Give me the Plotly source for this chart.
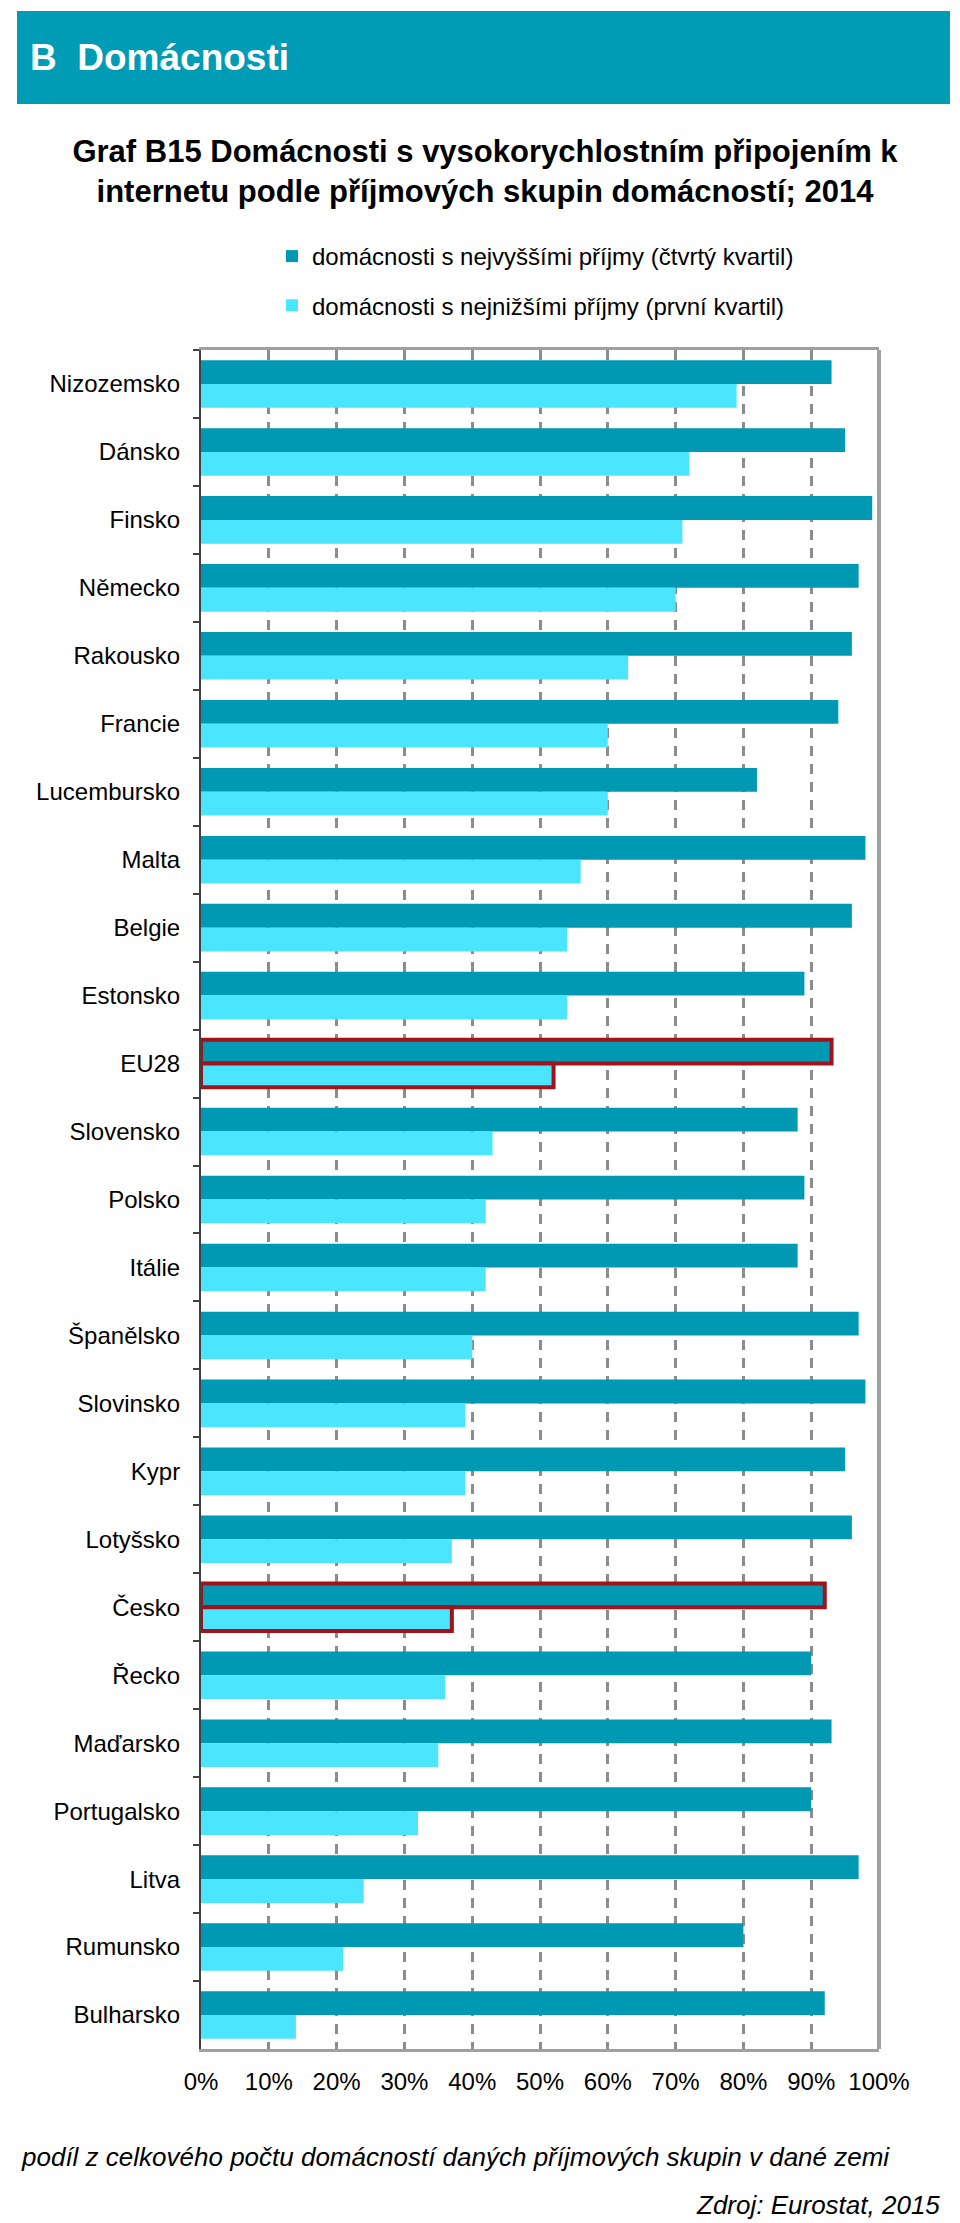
import plotly.graph_objects as go

# ---- data ----
countries = ["Nizozemsko", "Dánsko", "Finsko", "Německo", "Rakousko", "Francie",
             "Lucembursko", "Malta", "Belgie", "Estonsko", "EU28", "Slovensko",
             "Polsko", "Itálie", "Španělsko", "Slovinsko", "Kypr", "Lotyšsko",
             "Česko", "Řecko", "Maďarsko", "Portugalsko", "Litva", "Rumunsko",
             "Bulharsko"]
highest_income = [93, 95, 99, 97, 96, 94, 82, 98, 96, 89, 93, 88,
                  89, 88, 97, 98, 95, 96, 92, 90, 93, 90, 97, 80, 92]
lowest_income = [79, 72, 71, 70, 63, 60, 60, 56, 54, 54, 52, 43,
                 42, 42, 40, 39, 39, 37, 37, 36, 35, 32, 24, 21, 14]
highlighted = ["EU28", "Česko"]
series_names = ["domácnosti s nejvyššími příjmy (čtvrtý kvartil)",
                "domácnosti s nejnižšími příjmy (první kvartil)"]
x_ticks = [0, 10, 20, 30, 40, 50, 60, 70, 80, 90, 100]
x_tick_labels = ["0%", "10%", "20%", "30%", "40%", "50%", "60%", "70%", "80%", "90%", "100%"]

# ---- style ----
W, H = 960, 2223
L, R, T, B = 201, 81, 350, 174
PW, PH = W - L - R, H - T - B
DARK = "#0099B4"
LIGHT = "#4CE5FF"
HEADER = "#009BB5"
RED = "#A3121A"
FONT = "Arial, Liberation Sans, sans-serif"


def px_x(px):
    return (px - L) / PW


def px_y(py):
    return (H - B - py) / PH


line_colors = [RED if c in highlighted else "rgba(0,0,0,0)" for c in countries]
line_widths = [4 if c in highlighted else 0 for c in countries]

fig = go.Figure()
fig.add_trace(go.Bar(
    y=countries, x=highest_income, orientation="h", name=series_names[0],
    marker=dict(color=DARK, line=dict(color=line_colors, width=line_widths)),
    legendgroup="a", hoverinfo="x+y"))
fig.add_trace(go.Bar(
    y=countries, x=lowest_income, orientation="h", name=series_names[1],
    marker=dict(color=LIGHT, line=dict(color=line_colors, width=line_widths)),
    legendgroup="b", hoverinfo="x+y"))

fig.update_layout(
    width=W, height=H,
    margin=dict(l=L, r=R, t=T, b=B, pad=0, autoexpand=False),
    paper_bgcolor="white", plot_bgcolor="white",
    barmode="group", bargap=0.3, bargroupgap=0,
    font=dict(family=FONT, size=24, color="#000000"),
    title=dict(
        text="<b>Graf B15 Domácnosti s vysokorychlostním připojením k<br>"
             "internetu podle příjmových skupin domácností; 2014</b>",
        font=dict(family=FONT, size=31, color="#000000"),
        x=485 / W, xanchor="center", xref="container",
        y=1 - 162 / H, yanchor="middle", yref="container", automargin=False),
    legend=dict(
        x=px_x(272), xanchor="left",
        y=px_y(234), yanchor="top",
        orientation="v", traceorder="grouped", tracegroupgap=15,
        font=dict(family=FONT, size=24, color="#000000"),
        bgcolor="rgba(0,0,0,0)", itemwidth=30),
    showlegend=True,
    xaxis=dict(
        range=[0, 100], tickvals=x_ticks, ticktext=x_tick_labels,
        showgrid=True, gridcolor="#8C8C8C", gridwidth=2.5, griddash="10px,8px",
        showline=True, linecolor="#A0A0A0", linewidth=3, mirror=True,
        ticks="", ticklabelstandoff=9, zeroline=False, automargin=False,
        tickfont=dict(family=FONT, size=24, color="#000000"), fixedrange=True),
    yaxis=dict(
        autorange="reversed", showgrid=False,
        showline=True, linecolor="#404040", linewidth=2,
        ticks="outside", tickson="boundaries", ticklen=6, tickcolor="#404040",
        tickwidth=2, ticklabelstandoff=14, automargin=False,
        tickfont=dict(family=FONT, size=24, color="#000000"), fixedrange=True),
    shapes=[
        dict(type="rect", xref="paper", yref="paper",
             x0=px_x(17), x1=px_x(950), y0=px_y(104), y1=px_y(11),
             fillcolor=HEADER, line=dict(width=0), layer="below"),
        dict(type="line", xref="x domain", yref="y domain",
             x0=1, x1=1, y0=0, y1=1, line=dict(color="#A0A0A0", width=4)),
    ],
    annotations=[
        dict(text="<b>B\u00a0\u00a0Domácnosti</b>", xref="paper", yref="paper",
             x=px_x(28), y=px_y(57), xanchor="left", yanchor="middle",
             showarrow=False, font=dict(family=FONT, size=37, color="white")),
        dict(text="<i>podíl z celkového počtu domácností daných příjmových skupin v dané zemi</i>",
             xref="paper", yref="paper", x=px_x(19), y=px_y(2157),
             xanchor="left", yanchor="middle", showarrow=False,
             font=dict(family=FONT, size=26, color="#000000")),
        dict(text="<i>Zdroj: Eurostat, 2015</i>", xref="paper", yref="paper",
             x=px_x(942), y=px_y(2205), xanchor="right", yanchor="middle",
             showarrow=False, font=dict(family=FONT, size=26, color="#000000")),
    ],
)

fig.write_html("out.html", config={"displayModeBar": False},
               post_script="document.body.style.margin='0';")
